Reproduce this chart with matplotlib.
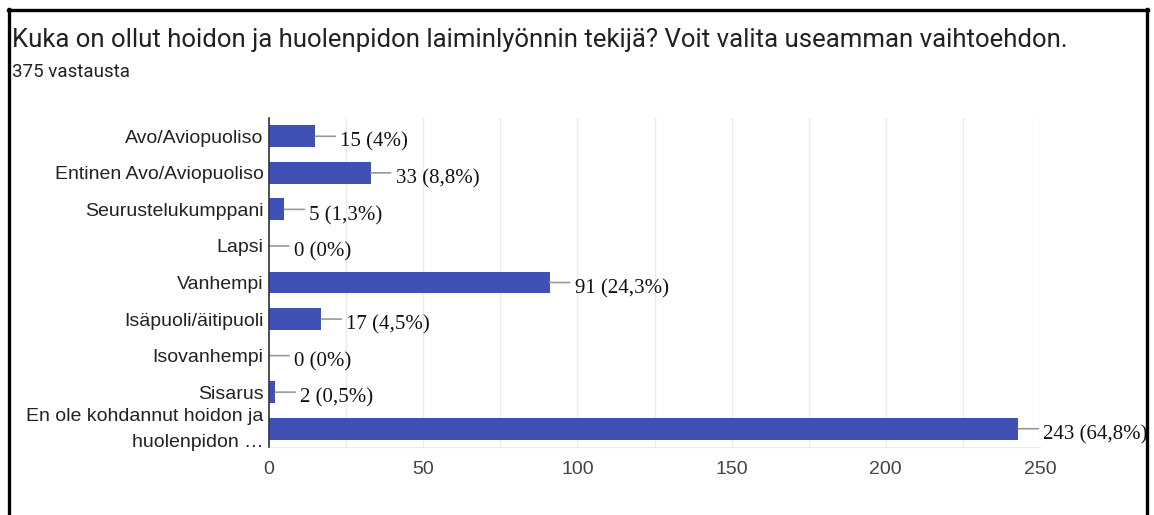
import matplotlib
matplotlib.use("Agg")
import matplotlib.pyplot as plt
import matplotlib.transforms as mtransforms
from matplotlib.lines import Line2D

categories = ["Avo/Aviopuoliso", "Entinen Avo/Aviopuoliso", "Seurustelukumppani",
              "Lapsi", "Vanhempi", "Isäpuoli/äitipuoli", "Isovanhempi", "Sisarus",
              "En ole kohdannut hoidon ja\nhuolenpidon …"]
counts = [15, 33, 5, 0, 91, 17, 0, 2, 243]
pct_labels = ["4%", "8,8%", "1,3%", "0%", "24,3%", "4,5%", "0%", "0,5%", "64,8%"]
xticks = [0, 50, 100, 150, 200, 250]
title = "Kuka on ollut hoidon ja huolenpidon laiminlyönnin tekijä? Voit valita useamman vaihtoehdon."
subtitle = "375 vastausta"

W, H = 1154, 515
fig = plt.figure(figsize=(W / 100, H / 100), dpi=100)
fig.patch.set_facecolor("white")

# frame of screenshot
fig.add_artist(Line2D([9 / W, 9 / W], [0, 1 - 9 / H], color="black", lw=2.4, transform=fig.transFigure))
fig.add_artist(Line2D([1147 / W, 1147 / W], [0, 1 - 9 / H], color="black", lw=2.4, transform=fig.transFigure))
fig.add_artist(Line2D([8 / W, 1148 / W], [1 - 10 / H, 1 - 10 / H], color="black", lw=2.4, transform=fig.transFigure))

fig.text(12 / W, 1 - 40 / H, title, fontsize=18.5, family="Roboto", color="#202124", va="center", ha="left")
fig.text(12 / W, 1 - 72 / H, subtitle, fontsize=13.5, family="Roboto", color="#202124", va="center", ha="left")

left, right, top, bottom = 269 / W, 1040 / W, 1 - 118 / H, 1 - 447 / H
ax = fig.add_axes([left, bottom, right - left, top - bottom])
ypos = list(range(len(categories)))
ax.barh(ypos, counts, height=0.6, color="#3f51b5", zorder=3)
ax.set_xlim(0, 250)
ax.set_ylim(len(categories) - 0.5, -0.5)
ax.set_yticks(ypos)
ax.set_yticklabels(categories, family="Liberation Sans", fontsize=14, color="#222222", linespacing=1.75)
ax.set_xticks(xticks)
ax.set_xticklabels([str(t) for t in xticks], family="Liberation Sans", fontsize=14, color="#444444")
ax.set_xticks(range(0, 251, 25), minor=True)
ax.grid(axis="x", which="both", color="#ebebeb", lw=1, zorder=0)
ax.tick_params(axis="both", which="both", length=0)
ax.tick_params(axis="x", pad=10)
ax.tick_params(axis="y", pad=4)
for s in ["top", "right"]:
    ax.spines[s].set_visible(False)
ax.spines["bottom"].set_color("#ebebeb")
ax.spines["left"].set_color("#333333")
ax.spines["left"].set_linewidth(1.2)
ax.spines["left"].set_zorder(5)

# nudge the two-line label up so it centres on its bar
last = ax.get_yticklabels()[-1]
last.set_transform(last.get_transform() + mtransforms.ScaledTranslation(0, 6 / 100, fig.dpi_scale_trans))

for y, c, p in zip(ypos, counts, pct_labels):
    ax.annotate("", xy=(c, y), xytext=(20, 0), textcoords="offset pixels",
                arrowprops=dict(arrowstyle="-", color="#999999", lw=1.2, shrinkA=0, shrinkB=0),
                annotation_clip=False)
    ax.annotate(f"{c} ({p})", xy=(c, y), xytext=(25, -6), textcoords="offset pixels",
                family="Liberation Serif", fontsize=15, color="#111111", va="center", ha="left",
                annotation_clip=False)

fig.savefig("out.png", dpi=100, facecolor="white")
